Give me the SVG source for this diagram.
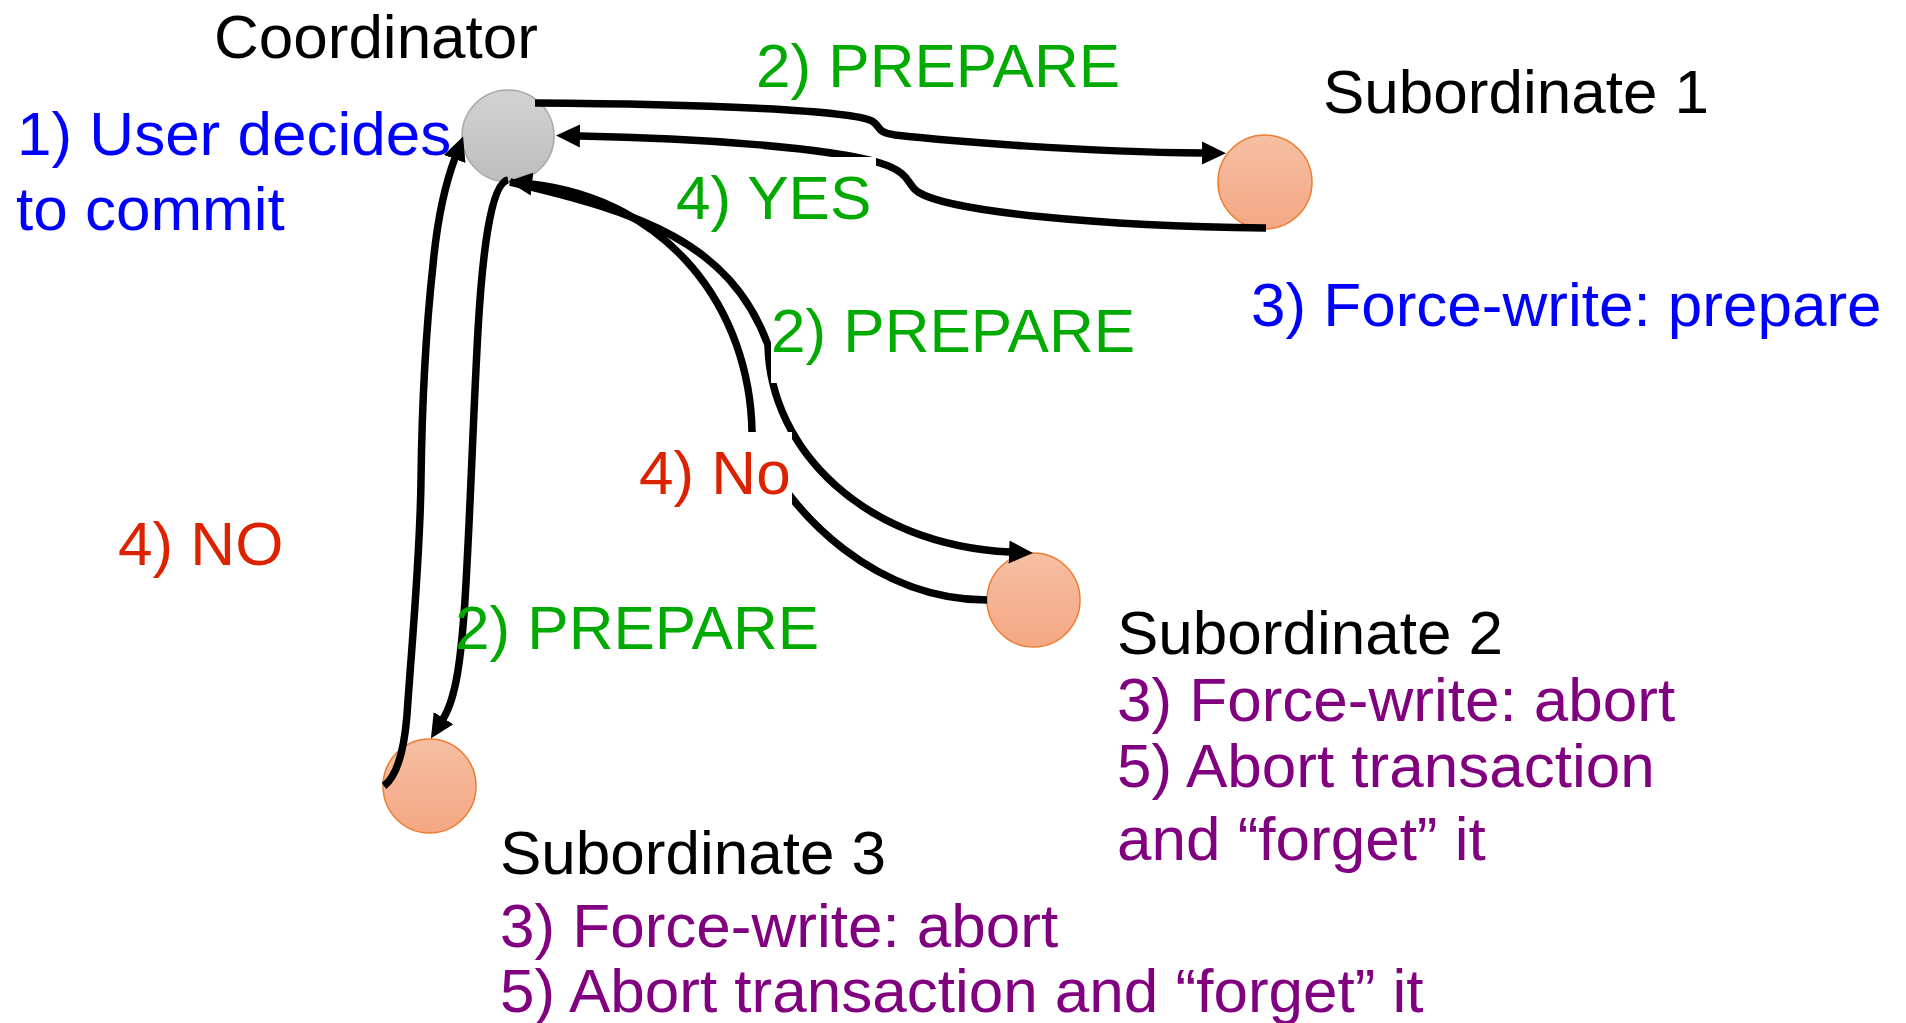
<svg xmlns="http://www.w3.org/2000/svg" width="1906" height="1023" viewBox="0 0 1906 1023">
  <style>
    text { font-family: "Liberation Sans", Arial, sans-serif; font-size: 62px; }
    .title { fill: #000000; }
    .blue { fill: #0000FF; }
    .green { fill: #00AA00; }
    .red { fill: #DD2200; }
    .purple { fill: #800080; }
    .edge { fill: none; stroke: #000000; stroke-width: 7.5; stroke-linecap: butt; stroke-linejoin: round; }
    .coord { fill: url(#gradCoord); stroke: #A8A8A8; stroke-width: 1.5; }
    .sub { fill: url(#gradSub); stroke: #EE7D31; stroke-width: 1.5; }
    .mask { fill: #FFFFFF; }
  </style>
  <defs>
    <linearGradient id="gradCoord" x1="0" y1="0" x2="0" y2="1">
      <stop offset="0" stop-color="#D2D2D2"/>
      <stop offset="1" stop-color="#BDBDBD"/>
    </linearGradient>
    <linearGradient id="gradSub" x1="0" y1="0" x2="0" y2="1">
      <stop offset="0" stop-color="#F6BFA3"/>
      <stop offset="1" stop-color="#F4A783"/>
    </linearGradient>
    <marker id="arrow" markerUnits="userSpaceOnUse" markerWidth="26" markerHeight="24" viewBox="0 -12 26 24" refX="1" refY="0" orient="auto">
      <path d="M0,-11.5 L24,0 L0,11.5 z" fill="#000000"/>
    </marker>
  </defs>

  <rect width="1906" height="1023" fill="#FFFFFF"/>

  <!-- Nodes -->
  <g id="node-coordinator">
    <ellipse class="coord" cx="508" cy="136" rx="46" ry="46"/>
    <text class="title" x="214" y="58">Coordinator</text>
    <text class="blue" x="17" y="155">1) User decides</text>
    <text class="blue" x="16" y="230">to commit</text>
  </g>

  <g id="node-sub1">
    <ellipse class="sub" cx="1265" cy="182" rx="47" ry="47"/>
    <text class="title" x="1323" y="113">Subordinate 1</text>
    <text class="blue" x="1251" y="326">3) Force-write: prepare</text>
  </g>

  <g id="node-sub2">
    <ellipse class="sub" cx="1033.5" cy="600" rx="46.5" ry="47"/>
    <text class="title" x="1117" y="654">Subordinate 2</text>
    <text class="purple" x="1117" y="721">3) Force-write: abort</text>
    <text class="purple" x="1117" y="787">5) Abort transaction</text>
    <text class="purple" x="1117" y="860">and “forget” it</text>
  </g>

  <g id="node-sub3">
    <ellipse class="sub" cx="429.5" cy="786" rx="46.5" ry="47"/>
    <text class="title" x="500" y="874">Subordinate 3</text>
    <text class="purple" x="500" y="947">3) Force-write: abort</text>
    <text class="purple" x="500" y="1012">5) Abort transaction and “forget” it</text>
  </g>

  <!-- Connectors -->
  <g id="connectors">
    <!-- Coordinator -> Subordinate 1 : PREPARE -->
    <path class="edge" marker-end="url(#arrow)" d="M535,103 C700,104 850,110 872,121 C882,127 875,132 895,135 C950,141 1080,152 1203,153"/>
    <!-- Subordinate 1 -> Coordinator : YES -->
    <path class="edge" marker-end="url(#arrow)" d="M1266,228 C1100,226 950,212 918,192 C906,184 912,173 880,163 C830,148 700,138 579,136"/>
    <!-- Coordinator -> Subordinate 2 : PREPARE -->
    <path class="edge" marker-end="url(#arrow)" d="M510,182 C639,212 730,242 768,345 C770,450 865,545 1010,552"/>
    <!-- Subordinate 2 -> Coordinator : No -->
    <path class="edge" marker-end="url(#arrow)" d="M987,600 C880,600 790,520 752,432 C750,310 670,200 531,184"/>
    <!-- Coordinator -> Subordinate 3 : PREPARE -->
    <path class="edge" marker-end="url(#arrow)" d="M508,180 C490,183 482,260 478,330 C473,420 470,520 465,600 C461,660 456,698 443,719"/>
    <!-- Subordinate 3 -> Coordinator : NO -->
    <path class="edge" marker-end="url(#arrow)" d="M384,786 C397,776 404,752 407,715 C412,640 420,560 421,480 C422,400 427,320 433,265 C437,222 443,190 455,158"/>
  </g>

  <!-- Message labels (boxed labels sit on a white ground over the lines) -->
  <g id="labels">
    <text class="green" x="756" y="87">2) PREPARE</text>
    <rect class="mask" x="675" y="157" width="201" height="75"/>
    <text class="green" x="676" y="219">4) YES</text>
    <rect class="mask" x="771" y="297" width="366" height="86"/>
    <text class="green" x="771" y="352">2) PREPARE</text>
    <rect class="mask" x="639" y="432" width="153" height="75"/>
    <text class="red" x="639" y="494">4) No</text>
    <text class="red" x="118" y="565">4) NO</text>
    <text class="green" x="455" y="649">2) PREPARE</text>
  </g>
</svg>
